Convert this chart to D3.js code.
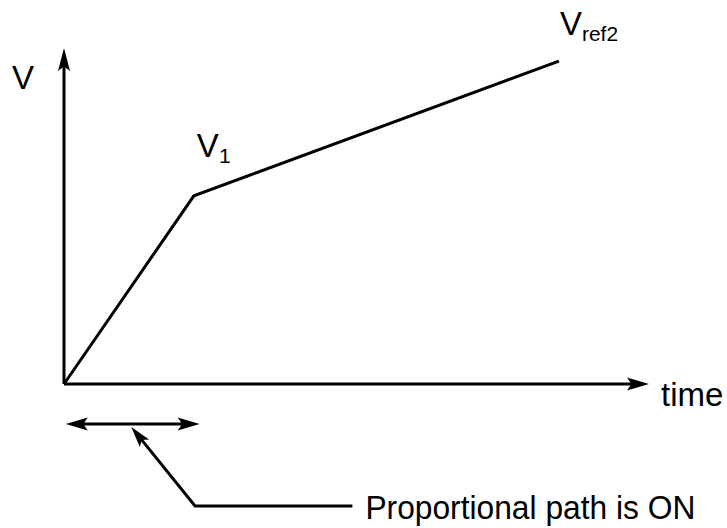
<html>
<head>
    <script src="https://d3js.org/d3.v7.min.js"></script>
    <style>
        body { margin: 0; background: #fff; }
        text { font-family: "Liberation Sans", Arial, Helvetica, sans-serif; fill: #000; }
    </style>
</head>

<body>
    <svg id="plot"></svg>

    <script>
        // piecewise ramp: time -> voltage (arbitrary units)
        var timeVals = [0, 2.22, 8.46];
        var voltVals = [0, 5.6, 9.61];
        var pointNames = ["", "V", "V"];
        var pointSubs  = ["", "1", "ref2"];

        var axisLabels = { x: "time", y: "V" };
        var xMax = 10, yMax = 10;

        // span where the proportional path is on, and the callout that points at it
        var onSpan = [0.03, 2.32];
        var onLevel = -1.19;
        var pointerPts = [[1.15, -1.28], [2.24, -3.63], [4.93, -3.63]];
        var noteText = "Proportional path is ON";

        var SizeX = 727, SizeY = 528;

        var svg = d3.select("#plot")
            .attr("width", SizeX)
            .attr("height", SizeY);

        var x_scale = d3.scaleLinear().domain([0, xMax]).range([64, 649]);
        var y_scale = d3.scaleLinear().domain([0, yMax]).range([384, 48]);

        var LW = 3;

        // filled arrow head with a small notch, tip at (x,y), pointing along angle (radians)
        function arrowHead(x, y, ang, len, half) {
            svg.append("path")
                .attr("d", "M0,0 L" + (-len) + "," + (-half) + " L" + (-len * 0.8) + ",0 L" + (-len) + "," + half + " Z")
                .attr("transform", "translate(" + x + "," + y + ") rotate(" + (ang * 180 / Math.PI) + ")")
                .attr("fill", "black");
        }

        function shaft(x1, y1, x2, y2) {
            svg.append("line")
                .attr("x1", x1).attr("y1", y1)
                .attr("x2", x2).attr("y2", y2)
                .attr("stroke", "black")
                .attr("stroke-width", LW);
        }

        // axes
        var ox = x_scale(0), oy = y_scale(0);
        shaft(ox, oy, x_scale(xMax) - 15, oy);
        arrowHead(x_scale(xMax), oy, 0, 22, 6.5);
        shaft(ox, oy, ox, y_scale(yMax) + 15);
        arrowHead(ox, y_scale(yMax), -Math.PI / 2, 23, 6);

        svg.append("text")
            .attr("x", 12).attr("y", 89)
            .attr("font-size", 33)
            .text(axisLabels.y);

        svg.append("text")
            .attr("x", x_scale(xMax) + 12).attr("y", oy + 22)
            .attr("font-size", 33)
            .text(axisLabels.x);

        // the ramp
        var pts = timeVals.map(function (t, i) { return [t, voltVals[i]]; });
        var line = d3.line()
            .x(function (d) { return x_scale(d[0]); })
            .y(function (d) { return y_scale(d[1]); });

        svg.append("path")
            .datum(pts)
            .attr("d", line)
            .attr("fill", "none")
            .attr("stroke", "black")
            .attr("stroke-width", LW)
            .attr("stroke-linejoin", "miter");

        // point labels
        var labelOffsets = [[0, 0], [3, -39], [1, -26]];
        pts.forEach(function (p, i) {
            if (!pointNames[i]) return;
            var t = svg.append("text")
                .attr("x", x_scale(p[0]) + labelOffsets[i][0])
                .attr("y", y_scale(p[1]) + labelOffsets[i][1])
                .attr("font-size", 33);
            t.append("tspan").text(pointNames[i]);
            t.append("tspan").attr("dy", 6).attr("font-size", 21).text(pointSubs[i]);
        });

        // double arrow for the "on" span
        var ay = y_scale(onLevel);
        var ax1 = x_scale(onSpan[0]), ax2 = x_scale(onSpan[1]);
        shaft(ax1 + 15, ay, ax2 - 15, ay);
        arrowHead(ax1, ay, Math.PI, 22, 6.5);
        arrowHead(ax2, ay, 0, 22, 6.5);

        // callout
        var pp = pointerPts.map(function (d) { return [x_scale(d[0]), y_scale(d[1])]; });
        var ang = Math.atan2(pp[0][1] - pp[1][1], pp[0][0] - pp[1][0]);
        var start = [pp[0][0] - 14 * Math.cos(ang), pp[0][1] - 14 * Math.sin(ang)];
        svg.append("path")
            .attr("d", d3.line()([start, pp[1], pp[2]]))
            .attr("fill", "none")
            .attr("stroke", "black")
            .attr("stroke-width", LW);
        arrowHead(pp[0][0], pp[0][1], ang, 21, 6);

        svg.append("text")
            .attr("x", pp[2][0] + 13)
            .attr("y", pp[2][1] + 13)
            .attr("font-size", 33)
            .attr("textLength", 330)
            .attr("lengthAdjust", "spacingAndGlyphs")
            .text(noteText);
    </script>
</body>
</html>
